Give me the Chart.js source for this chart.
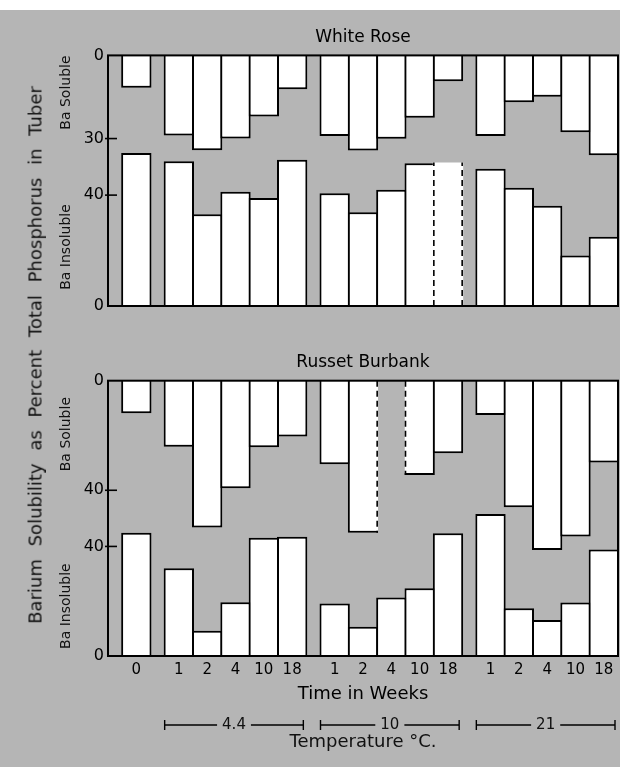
<!DOCTYPE html>
<html><head><meta charset="utf-8">
<script src="https://cdn.jsdelivr.net/npm/chart.js@4.4.0/dist/chart.umd.min.js"></script>
<style>
html,body{margin:0;padding:0;}
body{width:620px;height:767px;position:relative;overflow:hidden;background:#fff;font-family:"DejaVu Sans",sans-serif;}
#bg{position:absolute;left:0;top:10px;width:620px;height:757px;background:#b5b5b5;}
canvas{position:absolute;left:0;}
#c1{top:0;} #c2{top:330px;}
#ytitle{position:absolute;left:35px;top:355px;transform:translate(-50%,-50%) rotate(-90deg);white-space:nowrap;font-size:18px;word-spacing:7px;color:#111;}
</style></head>
<body>
<div id="bg"></div>
<canvas id="c1" width="620" height="320"></canvas>
<canvas id="c2" width="620" height="437"></canvas>
<div id="ytitle">Barium Solubility as Percent Total Phosphorus in Tuber</div>
<script>
// ---------- data ----------
const weekLabels = ['0','1','2','4','10','18','1','2','4','10','18','1','2','4','10','18'];
const temperatureLabels = ['4.4','10','21'];
const temperatureGroup = [-1,0,0,0,0,0,1,1,1,1,1,2,2,2,2,2];

const whiteRoseSoluble   = [11.7, 28.9, 34.2, 30.0, 22.0, 12.2, 29.1, 34.3, 30.1, 22.5, 9.3, 29.1, 16.9, 14.9, 27.7, 36.0];
const whiteRoseInsoluble = [55.2, 52.2, 33.1, 41.2, 39.0, 52.8, 40.7, 33.8, 41.9, 51.5, 51.8, 49.5, 42.7, 36.2, 18.2, 25.0];
const russetSoluble      = [11.9, 24.1, 53.6, 39.3, 24.3, 20.4, 30.5, 55.5, null, 34.4, 26.5, 12.5, 46.2, 61.8, 56.9, 29.9];
const russetInsoluble    = [45.0, 32.0, 9.2, 19.6, 43.2, 43.5, 19.2, 10.7, 21.4, 24.7, 44.8, 51.8, 17.4, 13.1, 19.5, 38.9];

const whiteRoseSolubleTicks = [0, 30];
const whiteRoseInsolubleTicks = [0, 40];
const russetSolubleTicks = [0, 40];
const russetInsolubleTicks = [0, 40];

// bars drawn with dashed sides (uncertain values)
const whiteRoseDashed = {soluble: [], insoluble: [10]};
const russetDashed = {soluble: [8], insoluble: []};

// ---------- layout / style ----------
const FONT = "'DejaVu Sans', sans-serif";
Chart.defaults.font.family = FONT;
Chart.defaults.color = '#000';
const LINE = 2;
const GROUP_GAP = 0.5;

function barPositions(groups){
  const pos = []; let cur = 0; let prev = null;
  groups.forEach((g, i) => { if (i === 0 || g !== prev) cur += GROUP_GAP; pos.push(cur + 0.5); cur += 1; prev = g; });
  return {pos, max: cur};
}
const {pos: xPos, max: xMax} = barPositions(temperatureGroup);
const touching = (i, j) => i >= 0 && j < temperatureGroup.length && temperatureGroup[i] === temperatureGroup[j];
const BAR_PCT = 1 + LINE / (510 / xMax);

function edgeWidths(i, dashedList){
  if (dashedList.includes(i)) return 0;
  return {top: LINE, bottom: LINE,
    left: (touching(i-1, i) && dashedList.includes(i-1)) ? 0 : LINE,
    right: (touching(i, i+1) && dashedList.includes(i+1)) ? 0 : LINE};
}

const panelPlugin = {
  id: 'panelDecor',
  afterDraw(chart, args, o) {
    const {ctx, chartArea: a, scales: {x, y}} = chart;
    const span = o.span;
    ctx.save();
    // dashed sides
    const unit = x.getPixelForValue(1) - x.getPixelForValue(0);
    ctx.strokeStyle = '#000'; ctx.lineWidth = 1.6; ctx.setLineDash([6, 4]);
    o.dashed.forEach(d => {
      d.indices.forEach(i => {
        const vals = d.values; const own = vals[i] == null ? 0 : vals[i];
        const lh = Math.max(own, touching(i-1, i) && vals[i-1] != null ? vals[i-1] : 0);
        const rh = Math.max(own, touching(i, i+1) && vals[i+1] != null ? vals[i+1] : 0);
        const cx = x.getPixelForValue(xPos[i]);
        [[cx - unit/2, lh], [cx + unit/2, rh]].forEach(([px, h]) => {
          const y0 = d.soluble ? y.getPixelForValue(span) : y.getPixelForValue(0);
          const y1 = d.soluble ? y.getPixelForValue(span - h) : y.getPixelForValue(h);
          ctx.beginPath(); ctx.moveTo(px, y0); ctx.lineTo(px, y1); ctx.stroke();
        });
      });
    });
    ctx.setLineDash([]);
    // frame
    ctx.lineWidth = LINE;
    ctx.strokeRect(a.left, a.top, a.right - a.left, a.bottom - a.top);
    // inner tick marks
    ctx.lineWidth = 1.6;
    o.innerTicks.forEach(v => {
      const py = y.getPixelForValue(v);
      ctx.beginPath(); ctx.moveTo(a.left - 3, py); ctx.lineTo(a.left + 9, py); ctx.stroke();
    });
    // side labels
    ctx.fillStyle = '#111'; ctx.font = '14px ' + FONT; ctx.textAlign = 'center'; ctx.textBaseline = 'middle';
    [[o.solLabel, y.getPixelForValue(span - o.solLabelAt)], [o.insLabel, y.getPixelForValue(o.insLabelAt)]].forEach(([t, py]) => {
      ctx.save(); ctx.translate(66, py); ctx.rotate(-Math.PI/2); ctx.fillText(t, 0, 0); ctx.restore();
    });
    // temperature brackets
    if (o.brackets) {
      const yb = a.bottom + 69;
      ctx.lineWidth = 1.4; ctx.font = '15px ' + FONT;
      temperatureLabels.forEach((lab, g) => {
        const idx = temperatureGroup.map((t, i) => t === g ? i : -1).filter(i => i >= 0);
        const l = x.getPixelForValue(xPos[idx[0]]) - unit/2;
        const r = x.getPixelForValue(xPos[idx[idx.length-1]]) + unit/2 - 3;
        const c = (l + r) / 2; const tw = ctx.measureText(lab).width;
        ctx.beginPath();
        ctx.moveTo(l, yb); ctx.lineTo(c - tw/2 - 5, yb);
        ctx.moveTo(c + tw/2 + 5, yb); ctx.lineTo(r, yb);
        ctx.moveTo(l, yb - 5); ctx.lineTo(l, yb + 5);
        ctx.moveTo(r, yb - 5); ctx.lineTo(r, yb + 5);
        ctx.stroke();
        ctx.fillText(lab, c, yb);
      });
      ctx.font = '18px ' + FONT;
      ctx.fillText('Temperature °C.', (a.left + a.right) / 2, a.bottom + 86);
    }
    ctx.restore();
  }
};

function makePanel(id, cfg){
  const {title, soluble, insoluble, span, solTicks, insTicks, dashed, showX, titlePad, padBottom} = cfg;
  const tickTable = [...insTicks.map(v => ({value: v, label: String(v)})), ...solTicks.map(v => ({value: span - v, label: String(v)}))];
  const innerTicks = tickTable.filter(t => t.label !== '0').map(t => t.value);
  const insData = insoluble.map((v, i) => ({x: xPos[i], y: v == null ? null : [0, v]}));
  const solData = soluble.map((v, i) => ({x: xPos[i], y: v == null ? null : [span - v, span]}));
  const common = {backgroundColor: '#fff', borderColor: '#000', grouped: false, barPercentage: BAR_PCT, categoryPercentage: 1};
  return new Chart(document.getElementById(id), {
    type: 'bar',
    data: {datasets: [
      Object.assign({label: 'Ba Insoluble', data: insData, borderSkipped: 'bottom', borderWidth: c => edgeWidths(c.dataIndex, dashed.insoluble)}, common),
      Object.assign({label: 'Ba Soluble', data: solData, borderSkipped: 'top', borderWidth: c => edgeWidths(c.dataIndex, dashed.soluble)}, common)
    ]},
    options: {
      responsive: false, animation: false, events: [],
      layout: {padding: {left: 0, right: 2, top: 0, bottom: padBottom}},
      plugins: {
        legend: {display: false}, tooltip: {enabled: false},
        title: {display: true, text: title, fullSize: false, color: '#000', font: {size: 17, weight: 'normal'}, padding: titlePad},
        panelDecor: {span, innerTicks, brackets: showX, solLabel: 'Ba Soluble', insLabel: 'Ba Insoluble',
          solLabelAt: cfg.solLabelAt, insLabelAt: cfg.insLabelAt,
          dashed: [{indices: dashed.soluble, values: soluble, soluble: true}, {indices: dashed.insoluble, values: insoluble, soluble: false}]}
      },
      scales: {
        x: {type: 'linear', min: 0, max: xMax, offset: false, display: showX,
          grid: {display: false, drawTicks: false}, border: {display: false},
          afterBuildTicks: s => { s.ticks = xPos.map(v => ({value: v})); },
          afterFit: s => { if (showX) s.height = 60; },
          ticks: {autoSkip: false, maxRotation: 0, padding: 5, font: {size: 15}, color: '#000', callback: (v, i) => weekLabels[i]},
          title: {display: showX, text: 'Time in Weeks', color: '#000', font: {size: 18}, padding: {top: 0, bottom: 11}}},
        y: {type: 'linear', min: 0, max: span,
          grid: {display: false, drawTicks: false}, border: {display: false},
          afterBuildTicks: s => { s.ticks = tickTable.map(t => ({value: t.value})); },
          afterFit: s => { s.width = 108; },
          ticks: {autoSkip: false, padding: 4, font: {size: 16}, color: '#000',
            callback: v => { const t = tickTable.find(t => Math.abs(t.value - v) < 1e-6); return t ? t.label : ''; }}}
      }
    },
    plugins: [panelPlugin]
  });
}

makePanel('c1', {title: 'White Rose', soluble: whiteRoseSoluble, insoluble: whiteRoseInsoluble, span: 90.4,
  solTicks: whiteRoseSolubleTicks, insTicks: whiteRoseInsolubleTicks, dashed: whiteRoseDashed, showX: false,
  titlePad: {top: 27, bottom: 8}, padBottom: 14, solLabelAt: 13.4, insLabelAt: 21.3});
makePanel('c2', {title: 'Russet Burbank', soluble: russetSoluble, insoluble: russetInsoluble, span: 100.5,
  solTicks: russetSolubleTicks, insTicks: russetInsolubleTicks, dashed: russetDashed, showX: true,
  titlePad: {top: 22, bottom: 8.3}, padBottom: 51, solLabelAt: 19.5, insLabelAt: 18.2});
</script></body></html>
